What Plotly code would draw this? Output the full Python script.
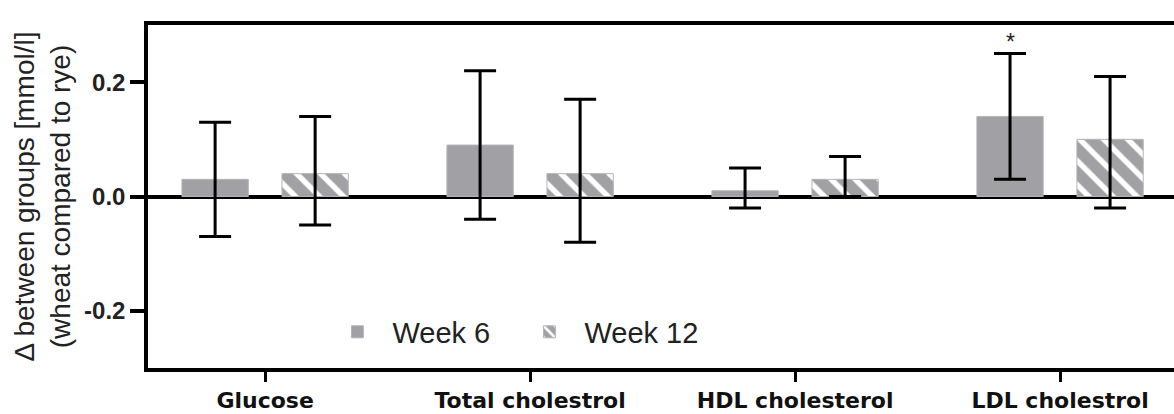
import plotly.graph_objects as go

categories = ["Glucose", "Total cholestrol", "HDL cholesterol", "LDL cholestrol"]
week6_mean = [0.03, 0.09, 0.01, 0.14]
week6_upper = [0.13, 0.22, 0.05, 0.25]
week6_lower = [-0.07, -0.04, -0.02, 0.03]
week12_mean = [0.04, 0.04, 0.03, 0.10]
week12_upper = [0.14, 0.17, 0.07, 0.21]
week12_lower = [-0.05, -0.08, 0.0, -0.02]
significant_week6 = ["", "", "", "*"]
y_ticks = [-0.2, 0.0, 0.2]

GRAY = "#a1a1a5"
x_idx = list(range(len(categories)))

fig = go.Figure()
fig.add_trace(go.Bar(
    name="Week 6", x=x_idx, y=week6_mean,
    marker=dict(color=GRAY, line=dict(color="#b4b4b8", width=1)),
    error_y=dict(type="data", symmetric=False,
                 array=[u - m for u, m in zip(week6_upper, week6_mean)],
                 arrayminus=[m - l for m, l in zip(week6_mean, week6_lower)],
                 color="black", thickness=3, width=16),
))
fig.add_trace(go.Bar(
    name="Week 12", x=x_idx, y=week12_mean,
    marker=dict(color=GRAY, line=dict(color="#b4b4b8", width=1),
                pattern=dict(shape="\\", fgcolor="white", bgcolor=GRAY,
                             size=17, solidity=0.32, fillmode="replace")),
    error_y=dict(type="data", symmetric=False,
                 array=[u - m for u, m in zip(week12_upper, week12_mean)],
                 arrayminus=[m - l for m, l in zip(week12_mean, week12_lower)],
                 color="black", thickness=3, width=16),
))

bargap = 0.245
slot = (1 - bargap) / 2
for i, s in enumerate(significant_week6):
    if s:
        fig.add_annotation(x=x_idx[i] - slot / 2, y=week6_upper[i], text=s,
                           showarrow=False, yanchor="bottom", yshift=-3,
                           font=dict(size=23, color="#222", family="Liberation Sans, Arial"))

fig.update_layout(
    width=1174, height=414,
    margin=dict(l=148, r=0, t=25, b=46),
    paper_bgcolor="white", plot_bgcolor="white",
    barmode="group", bargap=bargap, bargroupgap=0.337,
    showlegend=True,
    legend=dict(orientation="h", x=0.17, y=0.105, xanchor="left", yanchor="middle",
                font=dict(size=29, family="Liberation Sans, Arial", color="#222"),
                bgcolor="rgba(0,0,0,0)", itemwidth=60,
                entrywidth=117, entrywidthmode="pixels"),
)
fig.update_xaxes(
    range=[-0.442, 3.43], tickmode="array", tickvals=x_idx, ticktext=categories,
    showline=True, linecolor="black", linewidth=3.5, mirror=True,
    ticks="outside", ticklen=10, tickwidth=3, tickcolor="black",
    tickfont=dict(size=22, family="DejaVu Sans", color="#111", weight="bold"),
    showgrid=False, zeroline=False,
)
fig.update_yaxes(
    range=[-0.3, 0.3], tickvals=y_ticks, ticktext=["-0.2", "0.0", "0.2"],
    showline=True, linecolor="black", linewidth=3.5,
    ticks="outside", ticklen=14, tickwidth=3.5, tickcolor="black",
    tickfont=dict(size=24, family="Liberation Sans, Arial", color="#222", weight="bold"),
    showgrid=False, zeroline=True, zerolinecolor="black", zerolinewidth=4,
    title=dict(text="Δ between groups [mmol/l]<br>(wheat compared to rye)",
               font=dict(size=28, family="Liberation Sans, Arial", color="#222"),
               standoff=6),
    layer="above traces",
)

fig.write_html("out.html")
